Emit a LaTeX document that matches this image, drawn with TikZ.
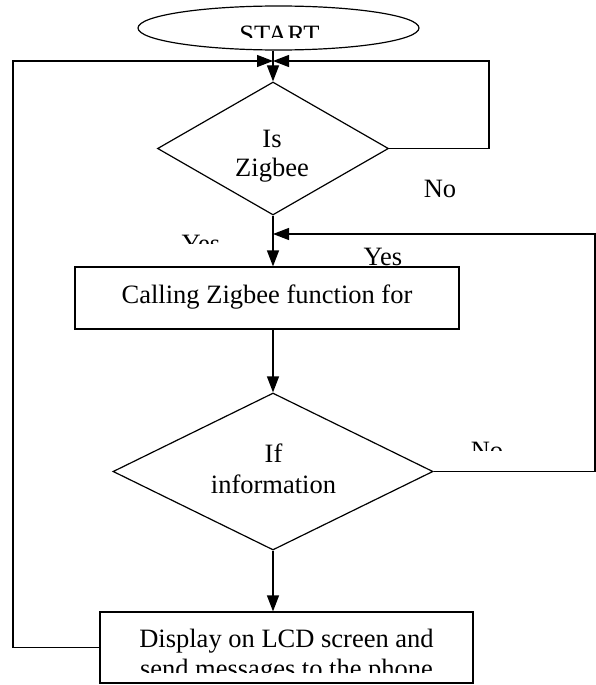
\documentclass[tikz,border=0pt]{standalone}
\usepackage{fontspec}
\setmainfont{Liberation Serif}
\usetikzlibrary{arrows.meta,shapes.geometric,calc}

\begin{document}
\begin{tikzpicture}[x=1pt,y=-1pt,line width=1.2pt,>={Triangle[length=16pt,width=12pt]},font=\fontsize{26.5}{30}\selectfont]
\useasboundingbox (0,0) rectangle (596,685);
\node[ellipse, draw, minimum width=281pt, minimum height=44pt, inner sep=0pt] (start) at (278.5,28){};
\node[diamond, draw, minimum width=231pt, minimum height=133pt, inner sep=0pt] (zb) at (273,148.5){};
\node[rectangle, draw, minimum width=384pt, minimum height=62pt, inner sep=0pt] (call) at (267,298){};
\node[diamond, draw, minimum width=320pt, minimum height=157pt, inner sep=0pt] (info) at (273,471.5){};
\node[rectangle, draw, minimum width=373pt, minimum height=71pt, inner sep=0pt] (lcd) at (286.5,647.5){};
% texts, cut off where the boxes cut them
\begin{scope}
\clip (130,0) rectangle (430,38);
\node[anchor=base, inner sep=0pt] (start-t) at (279.5,44){START};
\end{scope}
\node[anchor=base, inner sep=0pt, align=center, font=\fontsize{26.5}{29}\selectfont] (zb-t) at (272,176){Is\\Zigbee};
\node[anchor=base, inner sep=0pt] (call-t) at (267,303){Calling Zigbee function for};
\node[anchor=base, inner sep=0pt, align=center, font=\fontsize{26.5}{31}\selectfont] (info-t) at (273.5,493){If\\information};
\begin{scope}
\clip (110,615) rectangle (465,672);
\node[anchor=base, inner sep=0pt, align=center] (lcd-t) at (286.5,677){Display on LCD screen and\\send messages to the phone};
\end{scope}
\node[anchor=base, inner sep=0pt] (no1) at (440,197){No};
\node[anchor=base, inner sep=0pt] (yes2) at (383,265){Yes};
\begin{scope}
\clip (170,225) rectangle (235,243);
\node[anchor=base, inner sep=0pt] (yes1) at (201,252){Yes};
\end{scope}
\begin{scope}
\clip (460,430) rectangle (515,450);
\node[anchor=base, inner sep=0pt] (no2) at (487,459){No};
\end{scope}
% connectors
\coordinate (top) at (273,61);
\coordinate (mid) at (273,234);
\coordinate (loopL) at (13,61);
\coordinate (loopR) at (489,61);
\coordinate (loopR2) at (595,234);
\draw[->] (start.south -| zb.north) -- (zb.north);
\draw[->] (zb.south) -- (zb.south |- call.north);
\draw[->] (call.south -| info.north) -- (info.north);
\draw[->] (info.south) -- (info.south |- lcd.north);
\draw[->] (lcd.west) -| (loopL) -- (top);
\draw[->] (zb.east) -| (loopR) -- (top);
\draw[->] (info.east) -| (loopR2) -- (mid);
\end{tikzpicture}
\end{document}
